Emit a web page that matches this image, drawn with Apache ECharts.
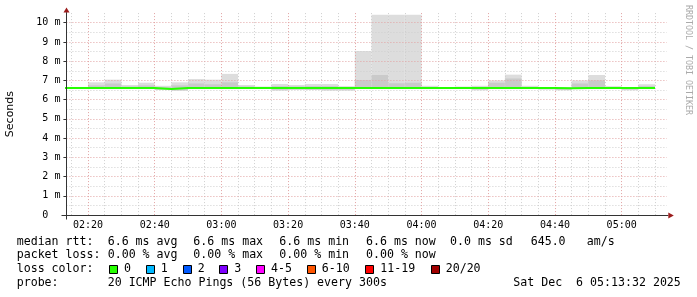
<!DOCTYPE html>
<html><head><meta charset="utf-8">
<script src="https://cdn.jsdelivr.net/npm/echarts@6/dist/echarts.min.js"></script>
<style>html,body{margin:0;padding:0;background:#fff}#c{width:697px;height:297px}</style>
</head><body><div id="c"></div>
<script>
// ---- data (values in milliseconds; each value covers the 5 min ending at the listed time)
const intervalEnds = ['02:15','02:20','02:25','02:30','02:35','02:40','02:45','02:50','02:55','03:00',
  '03:05','03:10','03:15','03:20','03:25','03:30','03:35','03:40','03:45','03:50','03:55','04:00',
  '04:05','04:10','04:15','04:20','04:25','04:30','04:35','04:40','04:45','04:50','04:55','05:00','05:05','05:10'];
const medianRtt = [6.60,6.60,6.60,6.60,6.60,6.60,6.55,6.60,6.60,6.60,
  6.60,6.60,6.60,6.60,6.60,6.60,6.60,6.60,6.60,6.60,6.60,6.60,
  6.60,6.60,6.60,6.60,6.61,6.61,6.60,6.60,6.59,6.60,6.61,6.60,6.60,6.60];
const smokeMin = [6.57,6.57,6.55,6.55,6.57,6.56,6.50,6.45,6.55,6.56,
  6.55,6.57,6.56,6.46,6.50,6.50,6.46,6.46,6.56,6.56,6.56,6.56,
  6.56,6.57,6.57,6.48,6.55,6.55,6.56,6.52,6.48,6.55,6.55,6.56,6.48,6.55];
const smokeInnerLow = [6.58,6.58,6.57,6.57,6.58,6.58,6.52,6.52,6.57,6.58,
  6.57,6.58,6.58,6.52,6.54,6.52,6.52,6.52,6.58,6.58,6.58,6.58,
  6.58,6.58,6.58,6.54,6.57,6.57,6.58,6.55,6.52,6.57,6.57,6.58,6.53,6.57];
const smokeInnerHigh = [6.63,6.63,6.74,6.84,6.68,6.74,6.64,6.74,6.84,6.80,
  6.90,6.68,6.64,6.70,6.68,6.70,6.70,6.64,7.02,7.28,6.85,6.88,
  6.65,6.62,6.63,6.66,6.88,7.10,6.65,6.62,6.62,6.84,7.00,6.65,6.62,6.70];
const smokeMax = [6.66,6.66,6.90,7.04,6.76,6.88,6.72,6.90,7.07,7.04,
  7.34,6.76,6.68,6.81,6.76,6.81,6.81,6.70,8.53,10.42,10.42,10.42,
  6.72,6.64,6.68,6.72,7.00,7.30,6.72,6.64,6.64,7.00,7.28,6.70,6.64,6.80];
const xTickLabels = ['02:20','02:40','03:00','03:20','03:40','04:00','04:20','04:40','05:00'];
const yTickValues = [0,1,2,3,4,5,6,7,8,9,10];
const yMinorValues = [0.5,1.5,2.5,3.5,4.5,5.5,6.5,7.5,8.5,9.5];
const viewStart = '02:13:32', viewEnd = '05:13:32';
const stepSeconds = 300;
const lossLabels = ['0','1','2','3','4-5','6-10','11-19','20/20'];
const lossColors = ['#26ff00','#00b8ff','#0059ff','#7e00ff','#ff00ff','#ff5500','#ff0000','#a10000'];
const statLine1 = ['median rtt:','6.6 ms avg','6.6 ms max','6.6 ms min','6.6 ms now','0.0 ms sd','645.0','am/s'];
const statLine2 = ['packet loss:','0.00 % avg','0.00 % max','0.00 % min','0.00 % now'];
const probeText = ['probe:','20 ICMP Echo Pings (56 Bytes) every 300s','Sat Dec  6 05:13:32 2025'];

// ---- helpers
function toSec(s){const p=s.split(':').map(Number);return p[0]*3600+p[1]*60+(p[2]||0);}
function fmtTime(v){const h=Math.floor(v/3600),m=Math.round((v%3600)/60);return String(h).padStart(2,'0')+':'+String(m).padStart(2,'0');}
const xMin = toSec(viewStart), xMax = toSec(viewEnd);
const majorX = xTickLabels.map(toSec);
const minorX = [];
for (let t = Math.ceil(xMin/stepSeconds)*stepSeconds; t < xMax; t += stepSeconds) { if (majorX.indexOf(t) < 0) minorX.push(t); }

const smokeData = intervalEnds.map((e,i)=>[toSec(e), smokeMin[i], smokeInnerLow[i], smokeInnerHigh[i], smokeMax[i]]);
const medianData = intervalEnds.map((e,i)=>[toSec(e)-stepSeconds, medianRtt[i]]);
medianData.push([toSec(intervalEnds[intervalEnds.length-1]), medianRtt[medianRtt.length-1]]);

const MONO = 'DejaVu Sans Mono';
const chart = echarts.init(document.getElementById('c'), null, {renderer:'canvas'});

function renderSmoke(params, api){
  const end = api.value(0), start = end - stepSeconds;
  const cs = params.coordSys;
  const area = {x:cs.x, y:cs.y, width:cs.width, height:cs.height};
  function box(lo, hi){
    const a = api.coord([start, hi]), b = api.coord([end, lo]);
    return echarts.graphic.clipRectByRect({x:a[0], y:a[1], width:b[0]-a[0], height:b[1]-a[1]}, area);
  }
  const outer = box(api.value(1), api.value(4));
  const inner = box(api.value(2), api.value(3));
  const children = [];
  if (outer) children.push({type:'rect', shape:outer, style:{fill:'#dddddd'}});
  if (inner) children.push({type:'rect', shape:inner, style:{fill:'#cacaca'}});
  return {type:'group', children};
}

const gridDash = [1,2];
chart.setOption({
  animation:false,
  backgroundColor:'#ffffff',
  grid:{left:66.4, right:30.2, top:13.1, bottom:82, outerBoundsMode:'none', containLabel:false},
  xAxis:[
    {type:'value', min:xMin, max:xMax, z:2,
     axisLine:{show:false},
     axisTick:{show:false, customValues:majorX},
     axisLabel:{customValues:majorX, formatter:fmtTime, margin:5, color:'#000', fontFamily:MONO, fontSize:10},
     splitLine:{show:true, lineStyle:{color:'#e2a3a3', width:1, type:gridDash}}},
    {type:'value', min:xMin, max:xMax, z:1,
     axisLine:{show:false},
     axisTick:{show:false, customValues:minorX},
     axisLabel:{show:false, customValues:minorX},
     splitLine:{show:true, lineStyle:{color:'#cfcfcf', width:1, type:gridDash}}}
  ],
  yAxis:[
    {type:'value', min:0, max:10.5, interval:1, z:2,
     name:'Seconds', nameLocation:'middle', nameGap:51, nameRotate:90,
     nameTextStyle:{fontFamily:'DejaVu Sans', fontSize:11, color:'#000'},
     axisLine:{show:false},
     axisTick:{show:true, length:3, customValues:yTickValues, lineStyle:{color:'#333'}},
     axisLabel:{customValues:yTickValues, formatter:v=>v===0?'0  ':v+' m', margin:6, color:'#000', fontFamily:MONO, fontSize:10},
     splitLine:{show:true, lineStyle:{color:'#e2a3a3', width:1, type:gridDash}}},
    {type:'value', min:0, max:10.5, interval:0.5, z:1,
     axisLine:{show:false},
     axisTick:{show:false, customValues:yMinorValues},
     axisLabel:{show:false, customValues:yMinorValues},
     splitLine:{show:true, lineStyle:{color:'#cfcfcf', width:1, type:gridDash}}}
  ],
  series:[
    {type:'custom', name:'smoke', xAxisIndex:0, yAxisIndex:0, z:0, renderItem:renderSmoke, data:smokeData, silent:true},
    {type:'line', name:'median rtt', xAxisIndex:0, yAxisIndex:0, z:5, step:'end', symbol:'none', data:medianData,
     lineStyle:{color:lossColors[0], width:2}, clip:true, silent:true}
  ]
});

// ---- axes with arrows, legend texts
const o = chart.convertToPixel({xAxisIndex:0, yAxisIndex:0}, [xMin, 0]);
const tr = chart.convertToPixel({xAxisIndex:0, yAxisIndex:0}, [xMax, 10.5]);
const ax = Math.floor(o[0]) + 0.5, ay = Math.round(o[1]) + 0.5;
const AXIS = '#333333', ARROW = '#9b1c1c';
const g = [];
g.push({type:'line', shape:{x1:ax-5, y1:ay, x2:tr[0]+1.5, y2:ay}, style:{stroke:AXIS, lineWidth:1}, z:10});
g.push({type:'line', shape:{x1:ax, y1:ay+4, x2:ax, y2:tr[1]-1}, style:{stroke:AXIS, lineWidth:1}, z:10});
g.push({type:'polygon', shape:{points:[[tr[0]+1.5, ay-3],[tr[0]+7, ay],[tr[0]+1.5, ay+3]]}, style:{fill:ARROW}, z:10});
g.push({type:'polygon', shape:{points:[[ax-3, tr[1]-0.5],[ax, tr[1]-5.5],[ax+3, tr[1]-0.5]]}, style:{fill:ARROW}, z:10});

const FS = 11.6;
function txt(s, x, y){ return {type:'text', x:x, y:y, style:{text:s, font:FS+'px "'+MONO+'"', fill:'#000', verticalAlign:'middle', align:'left'}, z:10}; }
const line1X = [16.7,107.7,193.3,279.3,366,450,530.7,586.7];
statLine1.forEach((s,i)=>g.push(txt(s, line1X[i], 241.7)));
statLine2.forEach((s,i)=>g.push(txt(s, line1X[i], 255.3)));
g.push(txt('loss color:', 16.7, 269.3));
const boxX = [109,145.7,182.7,219.3,256,306.7,365.3,430.7];
lossLabels.forEach((s,i)=>{
  g.push({type:'rect', shape:{x:Math.round(boxX[i])+0.5, y:265.5, width:8, height:8}, style:{fill:lossColors[i], stroke:'#000', lineWidth:1}, z:10});
  g.push(txt(s, boxX[i]+15, 269.3));
});
g.push(txt(probeText[0], 16.7, 283.3));
g.push(txt(probeText[1], 107.7, 283.3));
g.push(txt(probeText[2], 513.3, 283.3));
g.push({type:'text', x:688, y:60, rotation:-Math.PI/2, style:{text:'RRDTOOL / TOBI OETIKER', font:'8.3px "'+MONO+'"', fill:'#aaaaaa', align:'center', verticalAlign:'middle'}, z:10});
chart.setOption({graphic:{elements:g}});
</script></body></html>
